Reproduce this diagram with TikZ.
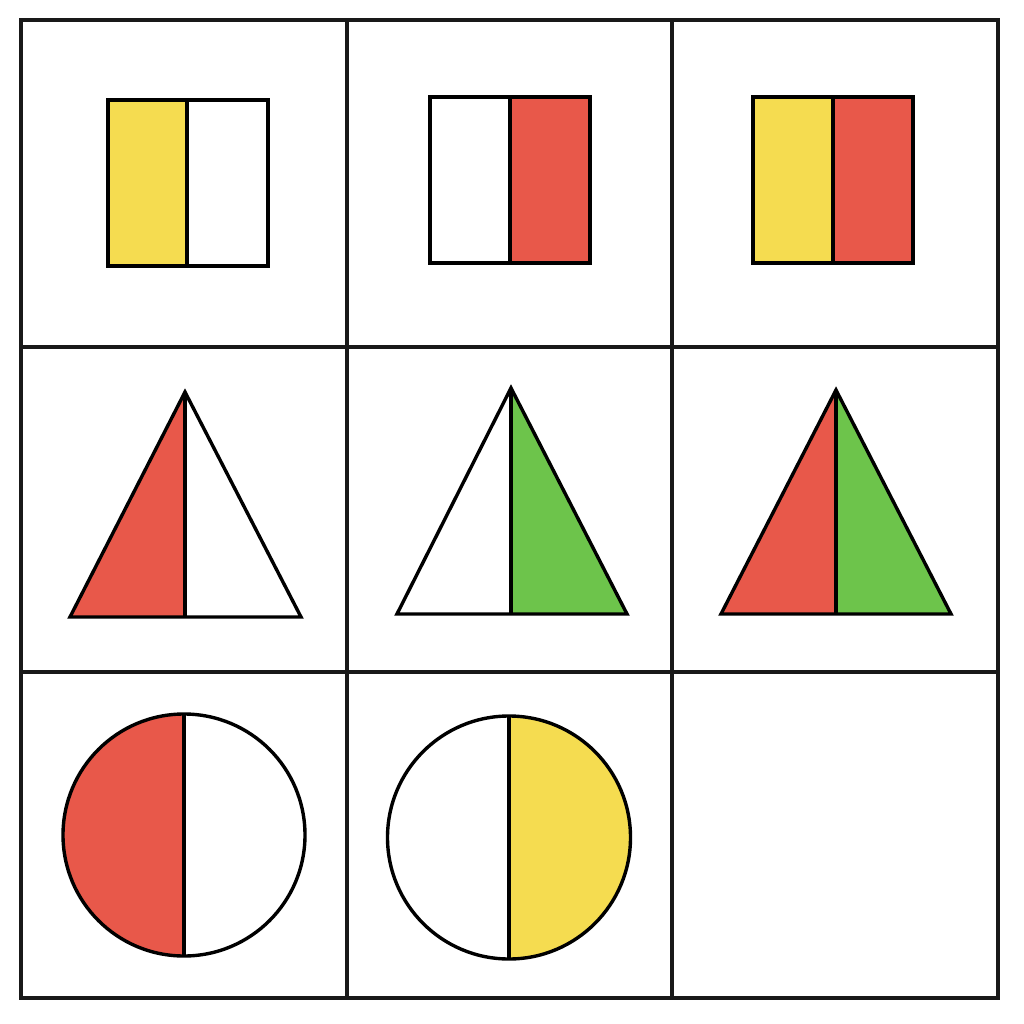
\documentclass[tikz,border=0pt]{standalone}
\begin{document}
\begin{tikzpicture}[x=1pt,y=-1pt,
  outline/.style={draw=black,line width=3.4pt,line join=miter},
  divider/.style={draw=black,line width=4.4pt},
  gridline/.style={draw=black!90,line width=3.2pt}]
\definecolor{cyellow}{HTML}{F5DC50}
\definecolor{cred}{HTML}{E8584A}
\definecolor{cgreen}{HTML}{6DC44B}
\useasboundingbox (0,0) rectangle (1024,1024);
\fill[white] (0,0) rectangle (1024,1024);
% grid
\draw[gridline] (21,20) rectangle (998,998);
\draw[gridline] (347,20) -- (347,998);
\draw[gridline] (672,20) -- (672,998);
\draw[gridline] (21,347) -- (998,347);
\draw[gridline] (21,672) -- (998,672);
% row 1: rectangles
\fill[cyellow] (108,100) rectangle (187,266);
\draw[outline] (108,100) rectangle (268,266);
\draw[outline] (187,100) -- (187,266);
\fill[cred] (510,97) rectangle (590,263);
\draw[outline] (430,97) rectangle (590,263);
\draw[outline] (510,97) -- (510,263);
\fill[cyellow] (753,97) rectangle (833,263);
\fill[cred] (833,97) rectangle (913,263);
\draw[outline] (753,97) rectangle (913,263);
\draw[outline] (833,97) -- (833,263);
% row 2: triangles
\fill[cred] (185,392) -- (70,617) -- (185,617) -- cycle;
\draw[outline] (185,392) -- (70,617) -- (301,617) -- cycle;
\draw[divider] (185,392) -- (185,617);
\fill[cgreen] (511,388) -- (511,614) -- (627,614) -- cycle;
\draw[outline] (511,388) -- (397,614) -- (627,614) -- cycle;
\draw[divider] (511,388) -- (511,614);
\fill[cred] (836,390) -- (721,614) -- (836,614) -- cycle;
\fill[cgreen] (836,390) -- (836,614) -- (951,614) -- cycle;
\draw[outline] (836,390) -- (721,614) -- (951,614) -- cycle;
\draw[divider] (836,390) -- (836,614);
% row 3: circles
\fill[cred] (184,714) arc[start angle=-90,end angle=-270,radius=121] -- cycle;
\draw[outline] (184,835) circle[radius=121];
\draw[divider] (184,714) -- (184,956);
\fill[cyellow] (509,716) arc[start angle=-90,end angle=90,radius=121.5] -- cycle;
\draw[outline] (509,837.5) circle[radius=121.5];
\draw[divider] (509,716) -- (509,959);
\end{tikzpicture}
\end{document}
